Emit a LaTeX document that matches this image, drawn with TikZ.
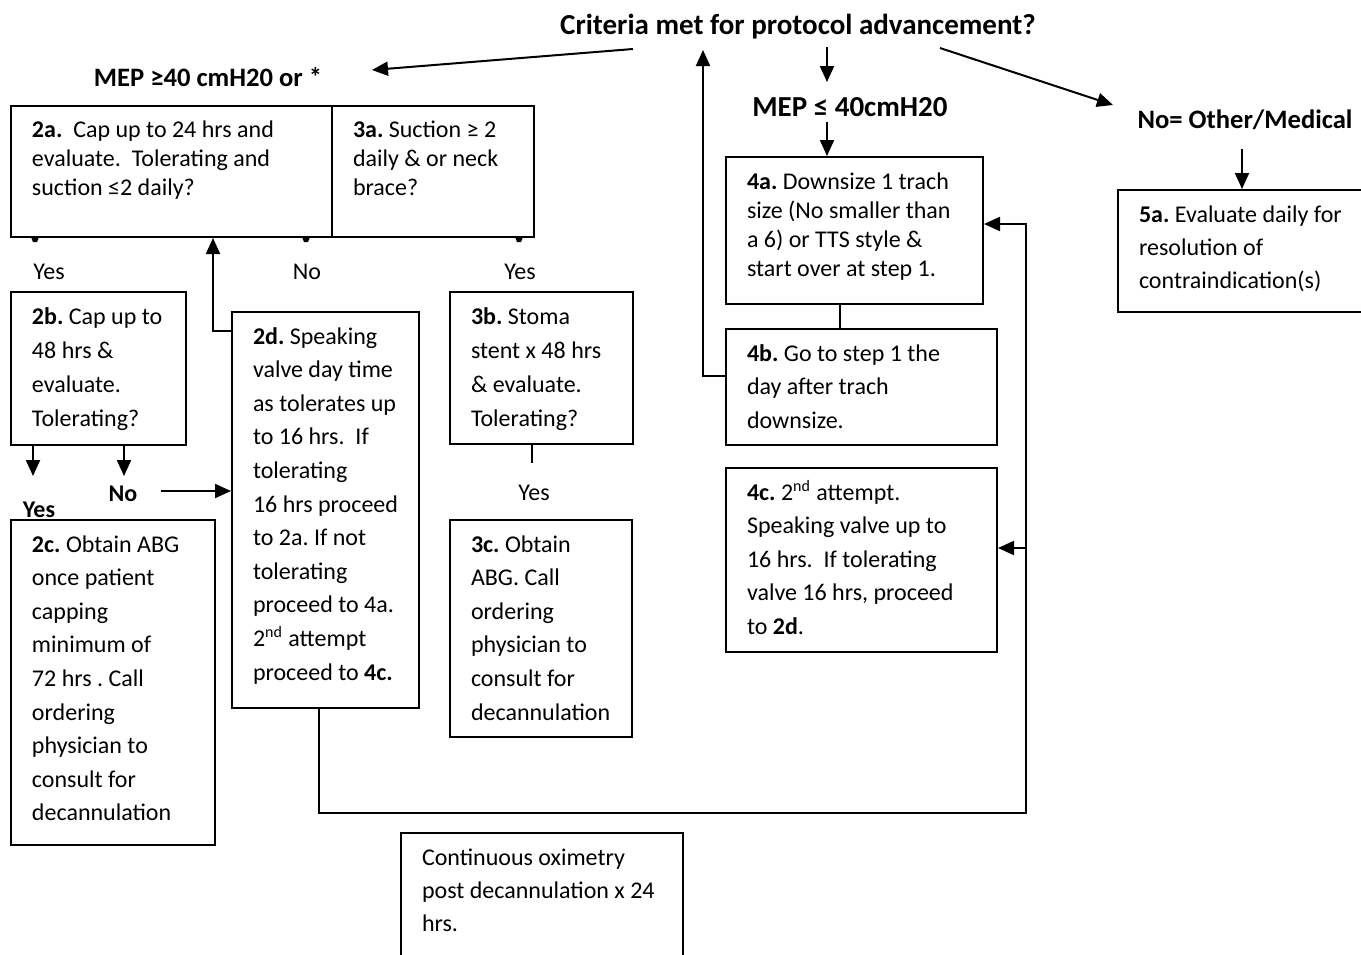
\documentclass[tikz,border=0pt]{standalone}
\usepackage{fontspec}
\setmainfont{Carlito}
\usetikzlibrary{arrows.meta}
\frenchspacing

\begin{document}
\begin{tikzpicture}[x=0.5pt,y=-0.5pt,line width=1pt,
    box/.style 2 args={draw,inner sep=0pt,anchor=north west,minimum width=#1,minimum height=#2},
    txt/.style={anchor=base west,inner sep=0pt,align=flush left,text width=150pt,font=\fontsize{12}{#1}\selectfont\frenchspacing},
    head/.style={anchor=base,inner sep=0pt,font=\fontsize{#1}{#1}\selectfont\bfseries},
    lbl/.style={anchor=base,inner sep=0pt,font=\fontsize{12}{14}\selectfont},
    arr/.style={-{Triangle[length=8pt,width=7pt]}}]
    \useasboundingbox (0,0) rectangle (1361,954);

    % headings
    \node[head=14.5] (crit) at (798,34) {Criteria met for protocol advancement?};
    \node[head=13.3] (mepge) at (208,86) {MEP ≥40 cmH20 or *};
    \node[head=14.5] (meple) at (850,116) {MEP ≤ 40cmH20};
    \node[head=13.3] (other) at (1245,128) {No= Other/Medical};

    % boxes
    \node[box={160.5pt}{65.5pt}] (b2a) at (10,105) {};
    \node[box={101pt}{65.5pt}] (b3a) at (331,105) {};
    \node[box={87.5pt}{76.5pt}] (b2b) at (10,291) {};
    \node[box={102pt}{162.5pt}] (b2c) at (10,519) {};
    \node[box={93.5pt}{198pt}] (b2d) at (231,311) {};
    \node[box={91.5pt}{76pt}] (b3b) at (449,291) {};
    \node[box={91pt}{108.5pt}] (b3c) at (449,519) {};
    \node[box={128.5pt}{73.5pt}] (b4a) at (725,156) {};
    \node[box={135.5pt}{58pt}] (b4b) at (725,328) {};
    \node[box={135.5pt}{92pt}] (b4c) at (725,467) {};
    \node[box={125pt}{61pt}] (b5a) at (1117,189) {};
    \node[box={141pt}{70pt}] (boxi) at (400,832) {};

    % box texts
    \node[txt=14.5] (t2a) at (31,137) {\textbf{2a.}~ Cap up to 24 hrs and\\evaluate.~ Tolerating and\\suction ≤2 daily?};
    \node[txt=14.5] (t3a) at (352,137) {\textbf{3a.} Suction ≥ 2\\daily \& or neck\\brace?};
    \node[txt=17] (t2b) at (31,324) {\textbf{2b.} Cap up to\\48 hrs \&\\evaluate.\\Tolerating?};
    \node[txt=16.8] (t2c) at (31,552) {\textbf{2c.} Obtain ABG\\once patient\\capping\\minimum of\\72 hrs . Call\\ordering\\physician to\\consult for\\decannulation};
    \node[txt=16.8] (t2d) at (252,344) {\textbf{2d.} Speaking\\valve day time\\as tolerates up\\to 16 hrs.~ If\\tolerating\\16 hrs proceed\\to 2a. If not\\tolerating\\proceed to 4a.\\2\textsuperscript{nd} attempt\\proceed to \textbf{4c.}};
    \node[txt=17] (t3b) at (470,324) {\textbf{3b.} Stoma\\stent x 48 hrs\\\& evaluate.\\Tolerating?};
    \node[txt=16.8] (t3c) at (470,552) {\textbf{3c.} Obtain\\ABG. Call\\ordering\\physician to\\consult for\\decannulation};
    \node[txt=14.5] (t4a) at (746,189) {\textbf{4a.} Downsize 1 trach\\size (No smaller than\\a 6) or TTS style \&\\start over at step 1.};
    \node[txt=16.8] (t4b) at (746,361) {\textbf{4b.} Go to step 1 the\\day after trach\\downsize.};
    \node[txt=16.8] (t4c) at (746,500) {\textbf{4c.} 2\textsuperscript{nd} attempt.\\Speaking valve up to\\16 hrs.~ If tolerating\\valve 16 hrs, proceed\\to \textbf{2d}.};
    \node[txt=16.5] (t5a) at (1138,222) {\textbf{5a.} Evaluate daily for\\resolution of\\contraindication(s)};
    \node[txt=16.5] (toxi) at (421,865) {Continuous oximetry\\post decannulation x 24\\hrs.};

    % branch labels
    \node[lbl] (yes2a) at (49,279) {Yes};
    \node[lbl] (no2a) at (307,279) {No};
    \node[lbl] (yes3a) at (520,279) {Yes};
    \node[lbl,font=\fontsize{12}{14}\selectfont\bfseries] (yes2b) at (39,517) {Yes};
    \node[lbl,font=\fontsize{12}{14}\selectfont\bfseries] (no2b) at (123,501) {No};
    \node[lbl] (yes3b) at (534,500) {Yes};

    % free ends
    \coordinate (critL) at (633,49);
    \coordinate (mepR) at (372,70);
    \coordinate (critD) at (827,47);
    \coordinate (mepT) at (827,82);
    \coordinate (mepB) at (827,122);
    \coordinate (critR) at (940,48);
    \coordinate (otherL) at (1113,105);
    \coordinate (otherB) at (1242,149);
    \coordinate (upT) at (703,50);
    \coordinate (upB) at (703,376);
    \coordinate (link4) at (840,0);
    \coordinate (back2) at (213,331);
    \coordinate (yesD) at (33,476);
    \coordinate (noD) at (124,476);
    \coordinate (noR) at (161,491);
    \coordinate (loopL) at (319,813);
    \coordinate (loopR) at (1026,813);
    \coordinate (tap4a) at (1026,224);
    \coordinate (tap4c) at (1026,548);
    \coordinate (stub3) at (532,463);

    % connectors
    \draw[arr] (critL) -- (mepR);
    \draw[arr] (critD) -- (mepT);
    \draw[arr] (mepB) -- (mepB |- b4a.north);
    \draw[arr] (critR) -- (otherL);
    \draw[arr] (otherB) -- (otherB |- b5a.north);
    \draw[arr] (upB -| b4b.west) -- (upB) -- (upT);
    \draw (link4 |- b4a.south) -- (link4 |- b4b.north);
    \draw[arr] (back2 -| b2d.west) -- (back2) -- (back2 |- b2a.south);
    \draw[arr] (yesD |- b2b.south) -- (yesD);
    \draw[arr] (noD |- b2b.south) -- (noD);
    \draw[arr] (noR) -- (noR -| b2d.west);
    \draw[arr] (loopL |- b2d.south) -- (loopL) -- (loopR) -- (tap4a) -- (tap4a -| b4a.east);
    \draw[arr] (tap4c) -- (tap4c -| b4c.east);
    \draw (stub3 |- b3b.south) -- (stub3);
    \foreach \x in {35,306,519}
        \fill (\x-4,237) -- (\x+4,237) -- (\x+2,242) -- (\x-2,242) -- cycle;
\end{tikzpicture}
\end{document}
